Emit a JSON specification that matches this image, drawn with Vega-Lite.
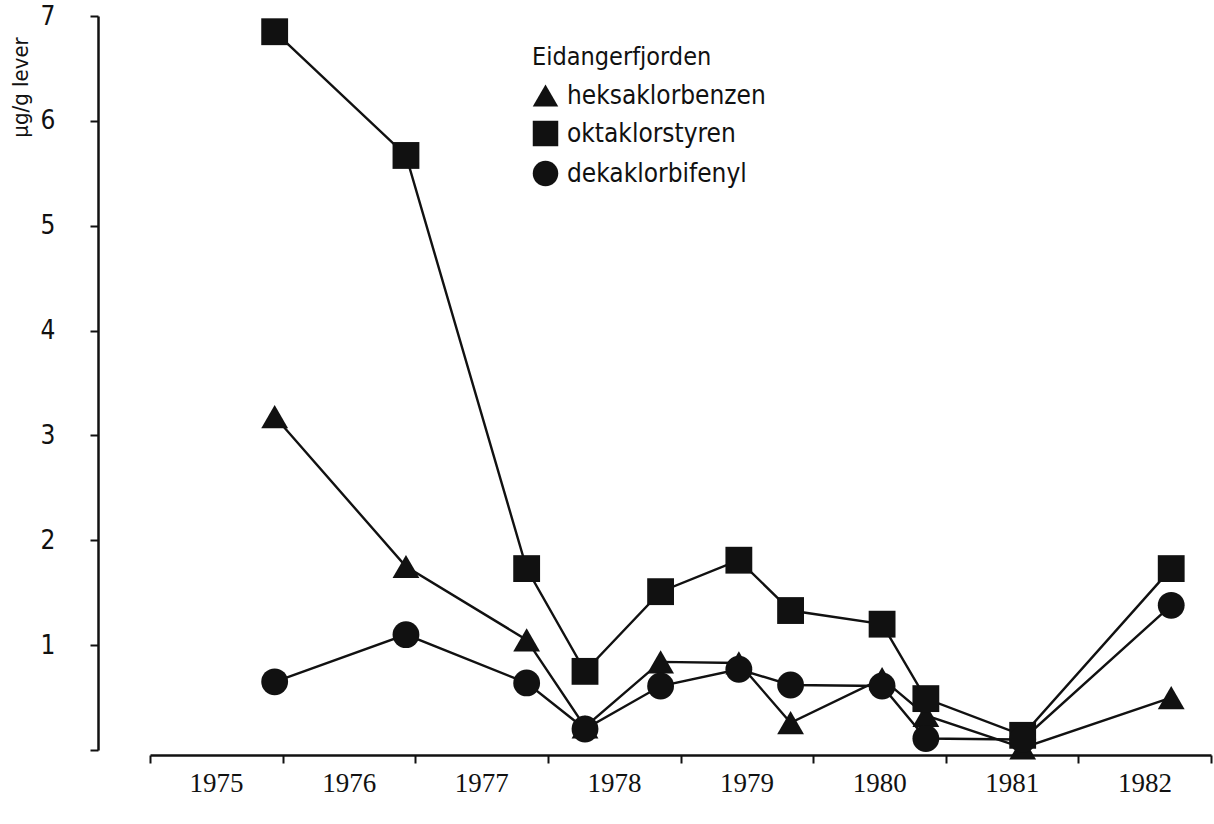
{
  "$schema": "https://vega.github.io/schema/vega-lite/v6.json",
  "width": 1061,
  "height": 734,
  "autosize": {"type": "none"},
  "padding": {"left": 150, "top": 16, "right": 3, "bottom": 74},
  "background": "white",
  "config": {
    "view": {"stroke": null},
    "font": "DejaVu Sans Condensed, Liberation Sans Narrow, DejaVu Sans, sans-serif"
  },
  "data": {
    "values": [
      {"t": 1975.94, "v": 3.18, "s": "heksaklorbenzen"},
      {"t": 1976.93, "v": 1.75, "s": "heksaklorbenzen"},
      {"t": 1977.84, "v": 1.05, "s": "heksaklorbenzen"},
      {"t": 1978.28, "v": 0.22, "s": "heksaklorbenzen"},
      {"t": 1978.85, "v": 0.84, "s": "heksaklorbenzen"},
      {"t": 1979.44, "v": 0.83, "s": "heksaklorbenzen"},
      {"t": 1979.83, "v": 0.26, "s": "heksaklorbenzen"},
      {"t": 1980.52, "v": 0.68, "s": "heksaklorbenzen"},
      {"t": 1980.85, "v": 0.33, "s": "heksaklorbenzen"},
      {"t": 1981.58, "v": 0.02, "s": "heksaklorbenzen"},
      {"t": 1982.70, "v": 0.5, "s": "heksaklorbenzen"},
      {"t": 1975.94, "v": 6.85, "s": "oktaklorstyren"},
      {"t": 1976.93, "v": 5.67, "s": "oktaklorstyren"},
      {"t": 1977.84, "v": 1.73, "s": "oktaklorstyren"},
      {"t": 1978.28, "v": 0.75, "s": "oktaklorstyren"},
      {"t": 1978.85, "v": 1.51, "s": "oktaklorstyren"},
      {"t": 1979.44, "v": 1.81, "s": "oktaklorstyren"},
      {"t": 1979.83, "v": 1.33, "s": "oktaklorstyren"},
      {"t": 1980.52, "v": 1.2, "s": "oktaklorstyren"},
      {"t": 1980.85, "v": 0.49, "s": "oktaklorstyren"},
      {"t": 1981.58, "v": 0.14, "s": "oktaklorstyren"},
      {"t": 1982.70, "v": 1.73, "s": "oktaklorstyren"},
      {"t": 1975.94, "v": 0.65, "s": "dekaklorbifenyl"},
      {"t": 1976.93, "v": 1.1, "s": "dekaklorbifenyl"},
      {"t": 1977.84, "v": 0.64, "s": "dekaklorbifenyl"},
      {"t": 1978.28, "v": 0.2, "s": "dekaklorbifenyl"},
      {"t": 1978.85, "v": 0.61, "s": "dekaklorbifenyl"},
      {"t": 1979.44, "v": 0.77, "s": "dekaklorbifenyl"},
      {"t": 1979.83, "v": 0.62, "s": "dekaklorbifenyl"},
      {"t": 1980.52, "v": 0.61, "s": "dekaklorbifenyl"},
      {"t": 1980.85, "v": 0.11, "s": "dekaklorbifenyl"},
      {"t": 1981.58, "v": 0.1, "s": "dekaklorbifenyl"},
      {"t": 1982.70, "v": 1.38, "s": "dekaklorbifenyl"}
    ]
  },
  "encoding": {
    "x": {
      "field": "t", "type": "quantitative",
      "scale": {"domain": [1975, 1983], "nice": false, "zero": false},
      "axis": {
        "title": null,
        "values": [1975, 1976, 1977, 1978, 1979, 1980, 1981, 1982, 1983],
        "format": "d",
        "labelExpr": "datum.value == 1983 ? '' : datum.label",
        "labelOffset": 66,
        "labelPadding": 7,
        "labelFont": "Liberation Serif, serif",
        "labelFontSize": 27,
        "labelColor": "#111",
        "labelOverlap": false,
        "labelBound": false,
        "labelFlush": false,
        "tickSize": 8,
        "tickWidth": 2,
        "tickColor": "#111",
        "domainColor": "#111",
        "domainWidth": 2.5,
        "grid": false,
        "offset": 5
      }
    },
    "y": {
      "field": "v", "type": "quantitative",
      "scale": {"domain": [0, 7], "nice": false},
      "axis": {
        "title": "µg/g lever",
        "titleFontSize": 22,
        "titleFontWeight": "normal",
        "titleColor": "#111",
        "titleAngle": -90,
        "titleX": -78,
        "titleY": 71,
        "titleAlign": "center",
        "titleBaseline": "middle",
        "values": [0, 1, 2, 3, 4, 5, 6, 7],
        "labelExpr": "datum.value == 0 ? '' : datum.label",
        "labelFontSize": 26,
        "labelColor": "#111",
        "labelPadding": 35,
        "tickSize": 8,
        "tickWidth": 2,
        "tickColor": "#111",
        "domainColor": "#111",
        "domainWidth": 2.5,
        "grid": false,
        "offset": 52
      }
    }
  },
  "layer": [
    {
      "mark": {"type": "line", "color": "#111", "strokeWidth": 2.4},
      "encoding": {"detail": {"field": "s"}}
    },
    {
      "mark": {"type": "point", "filled": true, "color": "#111", "opacity": 1, "size": 720},
      "encoding": {
        "shape": {
          "field": "s", "type": "nominal",
          "scale": {
            "domain": ["heksaklorbenzen", "oktaklorstyren", "dekaklorbifenyl"],
            "range": ["triangle-up", "square", "circle"]
          },
          "legend": {
            "title": "Eidangerfjorden",
            "orient": "none",
            "legendX": 382,
            "legendY": 29,
            "titleFontSize": 25,
            "titleFontWeight": "normal",
            "titleColor": "#111",
            "titlePadding": 12,
            "titleLimit": 0,
            "labelFontSize": 26,
            "labelLimit": 0,
            "labelColor": "#111",
            "labelOffset": 8,
            "symbolSize": 650,
            "symbolFillColor": "#111",
            "symbolStrokeColor": "#111",
            "rowPadding": 7,
            "padding": 0
          }
        }
      }
    }
  ]
}
